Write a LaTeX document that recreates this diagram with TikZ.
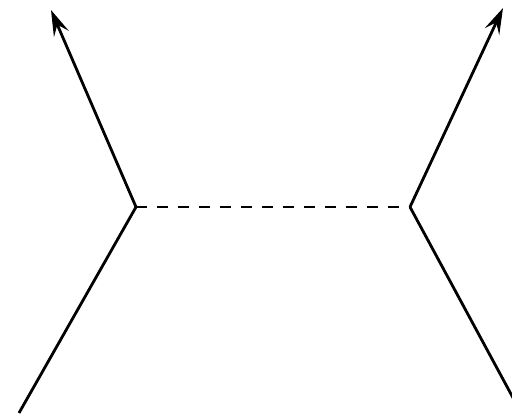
\documentclass[tikz,border=0pt]{standalone}
\usetikzlibrary{arrows.meta}
\tikzset{
  leg/.style={line width=2.8pt, line cap=butt},
  arrowleg/.style={leg, -{Stealth[length=26pt, width=16pt, inset=10pt]}},
  prop/.style={line width=2.4pt, dash pattern=on 11pt off 10pt}
}
\begin{document}
\begin{tikzpicture}[x=1pt,y=-1pt]
\useasboundingbox (0,0) rectangle (512,414);
\coordinate (L) at (136,207);
\coordinate (R) at (410,207);
\coordinate (LT) at (51,10);
\coordinate (RT) at (503,8);
\coordinate (LB) at (19,413);
\coordinate (RB) at (525,420);
\draw[arrowleg] (L) -- (LT);
\draw[arrowleg] (R) -- (RT);
\draw[leg] (L) -- (LB);
\draw[leg] (R) -- (RB);
\draw[prop] (L) -- (R);
\end{tikzpicture}
\end{document}
